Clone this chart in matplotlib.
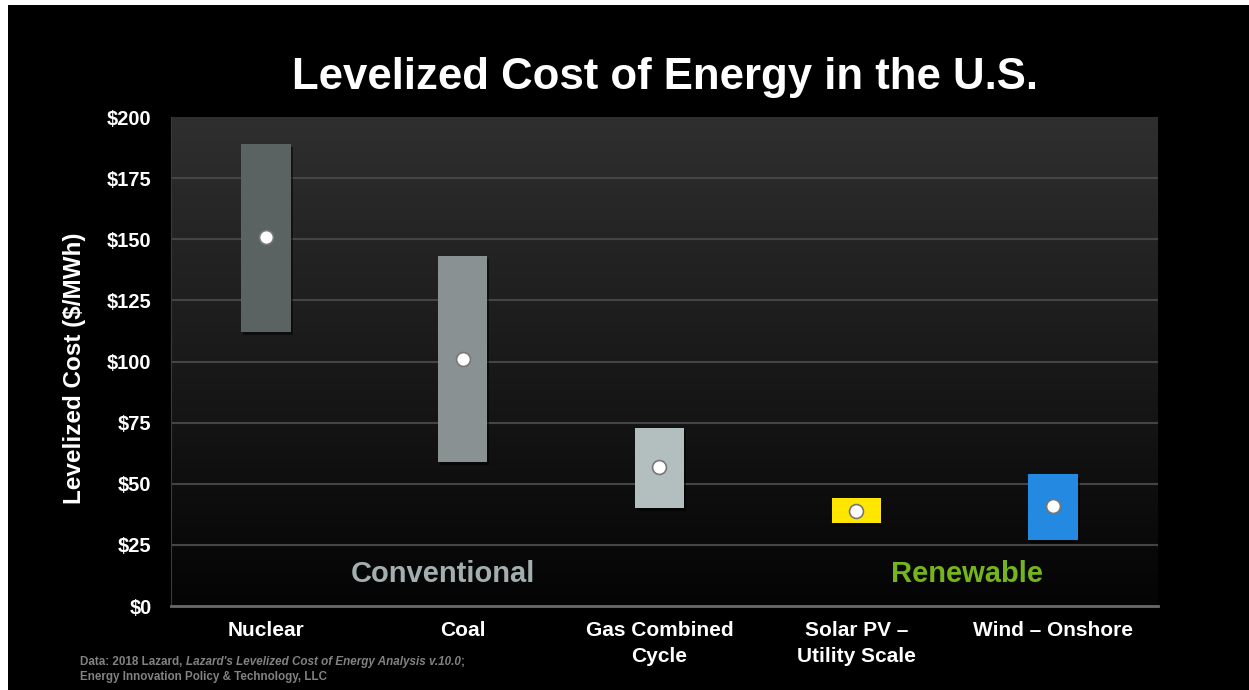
import numpy as np
import matplotlib.pyplot as plt
from matplotlib.patches import Rectangle

plt.rcParams['font.family'] = ['Liberation Sans', 'DejaVu Sans']

categories = ["Nuclear", "Coal", "Gas Combined\nCycle", "Solar PV \u2013\nUtility Scale", "Wind \u2013 Onshore"]
low = [112, 59, 40, 34, 27]
high = [189, 143, 73, 44, 54]
mid = [151, 101, 57, 39, 41]
colors = ["#5a6361", "#899193", "#b3bfbf", "#ffe600", "#2489e0"]
yticks = [0, 25, 50, 75, 100, 125, 150, 175, 200]

fig = plt.figure(figsize=(12.49, 6.9), dpi=100, facecolor="black")
ax = fig.add_axes([171 / 1249, 1 - 606 / 690, 987 / 1249, 489 / 690])
ax.set_facecolor("black")

x0, x1 = -0.483, 4.534

# vertical gradient background
grad = np.linspace(0, 1, 256).reshape(-1, 1)
ax.imshow(grad, extent=(x0, x1, 0, 200), aspect="auto", origin="lower",
          cmap=plt.matplotlib.colors.LinearSegmentedColormap.from_list(
              "bg", ["#040404", "#2f2f2f"]), zorder=0)

x = np.arange(len(categories))
w = 0.25
for i in x:
    # slight shadow
    ax.add_patch(Rectangle((i - w / 2 + 0.01, low[i] - 1.2), w, high[i] - low[i],
                           facecolor="#000000", alpha=0.5, zorder=2))
    ax.bar(i, high[i] - low[i], bottom=low[i], width=w, color=colors[i], zorder=3)
ax.scatter(x, mid, s=100, color="white", edgecolors="#777777", linewidths=1.2, zorder=4)

ax.set_xlim(x0, x1)
ax.set_ylim(0, 200)
ax.set_yticks(yticks)
ax.set_yticklabels([f"${v}" for v in yticks], color="white", fontsize=14.5, fontweight="bold")
ax.set_xticks(x)
ax.set_xticklabels(categories, color="white", fontsize=15, fontweight="bold", va="top",
                   linespacing=1.45)
ax.tick_params(axis="both", length=0)
ax.tick_params(axis="y", pad=14)
ax.tick_params(axis="x", pad=11)
for v in yticks[1:-1]:
    ax.axhline(v, color="#454545", lw=1.5, zorder=1)
for s in ["top", "right"]:
    ax.spines[s].set_visible(False)
ax.spines["left"].set_color("#3a3a3a")
ax.spines["bottom"].set_color("#6a6a6a")
ax.spines["bottom"].set_linewidth(2)

ax.set_ylabel("Levelized Cost ($/MWh)", color="white", fontsize=17.5, fontweight="bold")
ax.yaxis.set_label_coords(-0.0861, 0.487)

ax.text(0.90, 13, "Conventional", color="#a3aeae", fontsize=21, fontweight="bold",
        ha="center", va="center", zorder=5)
ax.text(3.563, 13, "Renewable", color="#74b41c", fontsize=21, fontweight="bold",
        ha="center", va="center", zorder=5)

fig.text(665 / 1249, 1 - 78 / 690, "Levelized Cost of Energy in the U.S.", color="white",
         fontsize=31.5, fontweight="bold", ha="center", va="center")

# footer with mixed italics
fc = "#828282"
t1 = fig.text(80 / 1249, 1 - 662 / 690, "Data: 2018 Lazard, ", color=fc,
              fontsize=8.4, fontweight="bold", va="center")
t2 = ax.annotate("Lazard's Levelized Cost of Energy Analysis v.10.0", xy=(1, 0),
                 xycoords=t1, va="bottom", color=fc, fontsize=8.4,
                 fontweight="bold", style="italic", annotation_clip=False)
ax.annotate(";", xy=(1, 0), xycoords=t2, va="bottom", color=fc, fontsize=8.4,
            fontweight="bold", annotation_clip=False)
fig.text(80 / 1249, 1 - 677 / 690, "Energy Innovation Policy & Technology, LLC",
         color=fc, fontsize=8.4, fontweight="bold", va="center")

# white border strips at top and left
fig.patches.append(Rectangle((0, 1 - 5 / 690), 1, 5 / 690, transform=fig.transFigure,
                             facecolor="white", edgecolor="none"))
fig.patches.append(Rectangle((0, 0), 8 / 1249, 1, transform=fig.transFigure,
                             facecolor="white", edgecolor="none"))

fig.savefig("out.png", dpi=100, facecolor="black")
